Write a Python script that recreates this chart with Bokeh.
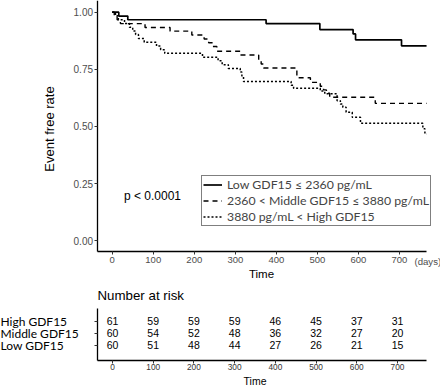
from bokeh.plotting import figure
from bokeh.models import (Legend, LegendItem, Label, Range1d, ColumnDataSource,
                          LinearAxis, FixedTicker)
from bokeh.layouts import column
from bokeh.embed import file_html
from bokeh.resources import INLINE
from bokeh.core.properties import value

# ---- Kaplan-Meier curves (time in days, event-free rate) ----
low_t = [0, 16, 38, 375, 506, 587, 593, 705, 766]
low_s = [1.0, 0.983, 0.967, 0.950, 0.924, 0.905, 0.879, 0.853, 0.853]

mid_t = [0, 5, 12, 20, 80, 141, 194, 224, 235, 245, 255, 312, 357, 363, 369,
         450, 483, 507, 515, 522, 530, 641, 766]
mid_s = [1.0, 0.983, 0.967, 0.950, 0.933, 0.917, 0.900, 0.883, 0.866, 0.850,
         0.829, 0.813, 0.790, 0.773, 0.756, 0.713, 0.693, 0.676, 0.660, 0.645,
         0.628, 0.601, 0.601]

high_t = [0, 8, 15, 30, 42, 50, 57, 64, 78, 108, 118, 128, 220, 258, 268, 283,
          312, 316, 320, 436, 442, 507, 518, 548, 556, 562, 570, 585, 605, 757,
          762, 766]
high_s = [1.0, 0.984, 0.967, 0.951, 0.934, 0.918, 0.902, 0.885, 0.869, 0.852,
          0.836, 0.820, 0.803, 0.787, 0.770, 0.754, 0.738, 0.721, 0.697, 0.680,
          0.667, 0.655, 0.643, 0.613, 0.598, 0.584, 0.562, 0.540, 0.514, 0.490,
          0.467, 0.467]

legend_labels = ["Low GDF15 \u2264 2360 pg/mL",
                 "2360 < Middle GDF15 \u2264 3880 pg/mL",
                 "3880 pg/mL < High GDF15"]
p_value_text = "p < 0.0001"

x_ticks = [0, 100, 200, 300, 400, 500, 600, 700]
y_ticks = [0.0, 0.25, 0.5, 0.75, 1.0]
y_tick_labels = ["0.00", "0.25", "0.50", "0.75", "1.00"]

# ---- Number at risk table ----
risk_groups = ["High GDF15", "Middle GDF15", "Low GDF15"]
risk_rows = [3, 2, 1]
risk_times = [0, 100, 200, 300, 400, 500, 600, 700]
risk_high = [61, 59, 59, 59, 46, 45, 37, 31]
risk_mid = [60, 54, 52, 48, 36, 32, 27, 20]
risk_low = [60, 51, 48, 44, 27, 26, 21, 15]

ARIAL = "Liberation Sans"
CALI = "Lato"
TICK_COL = "#4d4d4d"

W = 440
H1 = 282   # main panel height
H2 = 104   # risk table height


def style_axis(ax, size):
    ax.axis_line_color = "black"
    ax.axis_line_width = 1.3
    ax.major_tick_line_color = "#333333"
    ax.major_tick_line_width = 1
    ax.major_tick_in = 0
    ax.major_tick_out = 3
    ax.minor_tick_line_color = None
    ax.major_label_text_font = ARIAL
    ax.major_label_text_color = TICK_COL
    ax.major_label_text_font_size = size


# ================= main KM plot =================
p = figure(width=W, height=H1, x_range=Range1d(-272.2, 800),
           y_range=Range1d(-0.1829, 1.0512), output_backend="svg",
           toolbar_location=None, x_axis_location=None, y_axis_location=None,
           min_border=0)
p.outline_line_color = None
p.xgrid.visible = False
p.ygrid.visible = False

r_low = p.step(low_t, low_s, mode="after", line_color="black", line_width=1.7)
r_mid = p.step(mid_t, mid_s, mode="after", line_color="black", line_width=1.4,
               line_dash="5 4")
r_high = p.step(high_t, high_s, mode="after", line_color="black", line_width=1.5,
                line_dash="2 2")

xa = LinearAxis(fixed_location=-0.0473, bounds=(-37, 765.8),
                ticker=FixedTicker(ticks=x_ticks))
style_axis(xa, "9.5px")
xa.major_label_standoff = 2
p.add_layout(xa, "below")

ya = LinearAxis(fixed_location=-37, bounds=(-0.0473, 1.0512),
                ticker=FixedTicker(ticks=y_ticks))
style_axis(ya, "10px")
ya.major_label_standoff = 1
ya.major_label_overrides = dict(zip(y_ticks, y_tick_labels))
p.add_layout(ya, "left")

# axis titles and notes (screen px from the panel's bottom-left)
p.add_layout(Label(x=49, y=H1 - 128.5, x_units="screen", y_units="screen",
                   text="Event free rate", angle=1.5708, text_align="center",
                   text_baseline="middle", text_font=ARIAL,
                   text_font_size="13px", text_color="black"))
p.add_layout(Label(x=261, y=H1 - 273.3, x_units="screen", y_units="screen",
                   text="Time", text_align="center", text_baseline="middle",
                   text_font=ARIAL, text_font_size="11.5px",
                   text_color="black"))
p.add_layout(Label(x=414, y=H1 - 261, x_units="screen", y_units="screen",
                   text="(days)", text_align="left", text_baseline="middle",
                   text_font=ARIAL, text_font_size="9.6px",
                   text_color=TICK_COL))
p.add_layout(Label(x=152, y=H1 - 195.7, x_units="screen", y_units="screen",
                   text=p_value_text, text_align="center",
                   text_baseline="middle", text_font=ARIAL,
                   text_font_size="12px", text_color="black"))

legend = Legend(
    items=[LegendItem(label=legend_labels[0], renderers=[r_low]),
           LegendItem(label=legend_labels[1], renderers=[r_mid]),
           LegendItem(label=legend_labels[2], renderers=[r_high])],
    location=(201, H1 - 225.5), margin=0, padding=1, spacing=1,
    glyph_width=19, glyph_height=15, label_height=15, label_standoff=5,
    label_text_font=CALI, label_text_font_size="12.3px",
    label_text_baseline="middle",
    border_line_color="black", border_line_width=1.3,
    background_fill_color="white", background_fill_alpha=1.0)
p.add_layout(legend)

# ================= risk table =================
q = figure(width=W, height=H2, x_range=Range1d(-275.1, 805.7),
           y_range=Range1d(-2.4167, 6.25), output_backend="svg",
           toolbar_location=None, x_axis_location=None, y_axis_location=None,
           min_border=0)
q.outline_line_color = None
q.xgrid.visible = False
q.ygrid.visible = False

xs, ys, txt = [], [], []
for row, vals in zip(risk_rows, [risk_high, risk_mid, risk_low]):
    for t, v in zip(risk_times, vals):
        xs.append(t)
        ys.append(row)
        txt.append(str(v))
src = ColumnDataSource(data=dict(x=xs, y=ys, text=txt))
q.text(x="x", y="y", text="text", source=src, text_align="center",
       text_baseline="middle", text_font=value(ARIAL),
       text_font_size=value("10.5px"), text_color="black")

qx = LinearAxis(fixed_location=-0.25, bounds=(-37.6, 771.3),
                ticker=FixedTicker(ticks=risk_times))
style_axis(qx, "8.3px")
qx.major_label_standoff = 1
qx.major_label_text_color = "#333333"
q.add_layout(qx, "below")

qy = LinearAxis(fixed_location=-37.6, bounds=(-0.25, 4.083),
                ticker=FixedTicker(ticks=risk_rows))
style_axis(qy, "1px")
qy.major_label_overrides = {r: "" for r in risk_rows}
q.add_layout(qy, "left")

for g, row in zip(risk_groups, risk_rows):
    q.add_layout(Label(x=0, x_units="screen", y=row, y_units="data", text=g,
                       text_align="left", text_baseline="middle",
                       text_font=CALI, text_font_size="12px",
                       text_color="black"))
q.add_layout(Label(x=97, y=H2 - (295 - H1), x_units="screen",
                   y_units="screen", text="Number at risk", text_align="left",
                   text_baseline="middle", text_font=ARIAL,
                   text_font_size="13.3px", text_color="black"))
q.add_layout(Label(x=254.5, y=H2 - (380 - H1), x_units="screen",
                   y_units="screen", text="Time", text_align="center",
                   text_baseline="middle", text_font=ARIAL,
                   text_font_size="10.5px", text_color="black"))

layout = column(p, q, spacing=0)
open("out.html", "w").write(file_html(layout, INLINE))
